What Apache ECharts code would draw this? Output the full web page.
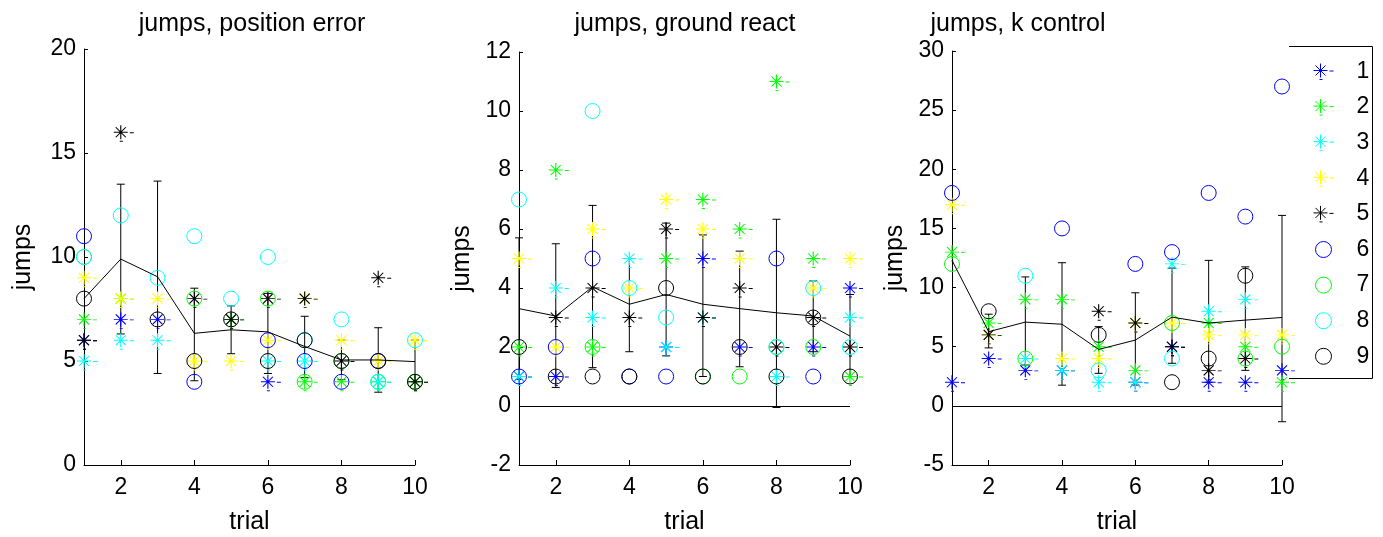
<!DOCTYPE html>
<html>
<head>
<meta charset="utf-8">
<script src="https://cdn.jsdelivr.net/npm/echarts@6/dist/echarts.min.js"></script>
<style>
  html, body { margin: 0; padding: 0; background: #fff; }
  #chart { width: 1383px; height: 537px; }
</style>
</head>
<body>
<div id="chart"></div>
<script>
// trials on the x axis
const trials = [1, 2, 3, 4, 5, 6, 7, 8, 9, 10]
const xTickValues = [2, 4, 6, 8, 10]
const subjects = ['1', '2', '3', '4', '5', '6', '7', '8', '9']
const subjectColors = ['#0000ff', '#00ff00', '#00ffff', '#ffff00', '#000000',
                       '#0000ff', '#00ff00', '#00ffff', '#000000']

const panelTitles = ['jumps, position error', 'jumps, ground react', 'jumps, k control']
const yMins = [0, -2, -5]
const yMaxs = [20, 12, 30]
const yIntervals = [5, 2, 5]

// jumps per subject (rows = subject 1..9, columns = trial 1..10), null = no point
const posError = [
  [6, 7, 7, null, null, 4, null, null, null, null],
  [7, 8, null, null, 7, null, 4, 4, 4, 4],
  [5, 6, 6, null, null, 5, 5, null, 4, null],
  [9, 8, 8, 5, 5, 6, 8, 6, 5, 6],
  [6, 16, null, 8, 7, 8, 8, 5, 9, 4],
  [11, null, null, 4, null, 6, 5, 4, 5, null],
  [10, null, null, 8, null, 8, 4, 5, 4, 4],
  [10, 12, 9, 11, 8, 10, 6, 7, 4, 6],
  [8, null, 7, 5, 7, 5, 6, 5, 5, 4]
]
const groundReact = [
  [1, 1, null, null, 2, 5, 2, null, 2, 4],
  [2, 8, 2, null, 5, 7, 6, 11, 5, 1],
  [1, 4, 3, 5, 2, 3, null, 1, null, 3],
  [5, 2, 6, 4, 7, 6, 5, null, 4, 5],
  [null, 3, 4, 3, 6, 3, 4, 2, 3, 2],
  [1, 2, 5, 1, 1, null, null, 5, 1, null],
  [null, null, 2, null, null, 1, 1, 2, 2, null],
  [7, null, 10, 4, 3, null, null, 2, 4, 2],
  [2, 1, 1, 1, 4, 1, 2, 1, 3, 1]
]
const kControl = [
  [2, 4, 3, 3, null, 2, 5, 2, 2, 3],
  [13, 7, 9, 9, 5, 3, null, 7, 5, 2],
  [null, null, 4, 3, 2, 2, 12, 8, 9, null],
  [17, 6, null, 4, 4, 7, 7, 6, 6, 6],
  [null, 6, null, null, 8, 7, 5, 3, 4, null],
  [18, null, null, 15, null, 12, 13, 18, 16, 27],
  [12, null, 4, null, null, null, 7, null, 4, 5],
  [null, null, 11, null, 3, null, 4, null, null, null],
  [null, 8, null, null, 6, null, 2, 4, 11, null]
]

// mean over subjects and error bar ends
const posErrorMean = [8.0, 9.9, 9.05, 6.33, 6.5, 6.4, 5.7, 5.05, 5.05, 4.97]
const posErrorLow = [null, 6.3, 4.4, 4.05, 5.35, 4.4, 4.2, 4.1, 3.5, 4.0]
const posErrorHigh = [null, 13.5, 13.65, 8.5, 7.65, 8.25, 7.15, 6.0, 6.6, 6.0]
const groundMean = [3.3, 3.05, 4.04, 3.45, 3.78, 3.45, 3.3, 3.16, 3.05, 2.37]
const groundLow = [0.9, 0.63, 1.3, 1.84, 1.7, 1.0, 1.33, -0.05, 1.84, 1.0]
const groundHigh = [5.7, 5.5, 6.8, 5.0, 6.2, 5.8, 5.25, 6.33, 4.24, 3.78]
const kMean = [12.3, 6.27, 7.08, 6.9, 4.77, 5.56, 7.5, 7.0, 7.25, 7.47]
const kLow = [null, 4.9, 3.45, 1.75, 2.75, 1.76, 3.6, 2.0, 3.0, -1.34]
const kHigh = [null, 7.75, 10.9, 12.1, 6.7, 9.56, 11.65, 12.3, 11.75, 16.1]

const panelData = [posError, groundReact, kControl]
const panelMeans = [posErrorMean, groundMean, kMean]
const panelLows = [posErrorLow, groundLow, kLow]
const panelHighs = [posErrorHigh, groundHigh, kHigh]

// asterisk with the little dashes, centred on the star
const asteriskPath = 'path://M0,7L14,7M7,0L7,14M2,2L12,12M12,2L2,12M16,7.5L20,7.5M6,16L9,16'
const font = 'Liberation Sans, Arial, sans-serif'

const grids = [
  { left: 84, top: 49, width: 331, height: 416, outerBoundsMode: 'none' },
  { left: 519, top: 52, width: 331, height: 413, outerBoundsMode: 'none' },
  { left: 952, top: 51, width: 330, height: 414, outerBoundsMode: 'none' },
]
const titleCenters = [247, 680, 1013]
const yNameGaps = [48, 44, 44]

const chartDom = document.getElementById('chart')
const chart = echarts.init(chartDom)

const xAxes = grids.map((g, i) => ({
  gridIndex: i,
  type: 'value',
  min: 1,
  max: 10,
  name: 'trial',
  nameLocation: 'middle',
  nameGap: 45,
  nameTextStyle: { color: '#000', fontSize: 25, fontFamily: font },
  axisLine: { onZero: false, lineStyle: { color: '#000', width: 1 } },
  axisTick: { inside: true, length: 5, customValues: xTickValues, lineStyle: { color: '#000' } },
  axisLabel: { customValues: xTickValues, color: '#000', fontSize: 23, fontFamily: font, margin: 11 },
  splitLine: { show: false },
}))

const yAxes = grids.map((g, i) => ({
  gridIndex: i,
  type: 'value',
  min: yMins[i],
  max: yMaxs[i],
  interval: yIntervals[i],
  name: 'jumps',
  nameLocation: 'middle',
  nameGap: yNameGaps[i],
  nameTextStyle: { color: '#000', fontSize: 25, fontFamily: font },
  axisLine: { show: true, onZero: false, lineStyle: { color: '#000', width: 1 } },
  axisTick: { show: true, inside: true, length: 4, lineStyle: { color: '#000' } },
  axisLabel: { color: '#000', fontSize: 23, fontFamily: font, margin: 8 },
  splitLine: { show: false },
}))

const series = []
panelData.forEach((rows, p) => {
  rows.forEach((row, s) => {
    const isStar = s < 5
    const pts = []
    row.forEach((v, i) => { if (v != null) pts.push([trials[i], v]) })
    series.push({
      name: subjects[s],
      type: 'scatter',
      xAxisIndex: p,
      yAxisIndex: p,
      data: pts,
      symbol: isStar ? asteriskPath : 'circle',
      symbolSize: isStar ? [20, 16] : 15,
      symbolOffset: isStar ? [3, 1] : [0, 0],
      itemStyle: {
        color: 'none',
        borderColor: subjectColors[s],
        borderWidth: 1,
        opacity: 1,
      },
      emphasis: { disabled: true },
      silent: true,
    })
  })

  // mean line (with zero line for the panels that go below 0)
  series.push({
    name: 'mean' + p,
    type: 'line',
    xAxisIndex: p,
    yAxisIndex: p,
    data: trials.map((t, i) => [t, panelMeans[p][i]]),
    symbol: 'none',
    lineStyle: { color: '#000', width: 1 },
    silent: true,
    markLine: yMins[p] < 0 ? {
      silent: true,
      symbol: 'none',
      label: { show: false },
      lineStyle: { color: '#000', width: 1, type: 'solid' },
      data: [{ yAxis: 0 }],
    } : undefined,
  })

  // error bars
  const errData = []
  trials.forEach((t, i) => {
    if (panelLows[p][i] != null) errData.push([t, panelLows[p][i], panelHighs[p][i]])
  })
  series.push({
    name: 'err' + p,
    type: 'custom',
    xAxisIndex: p,
    yAxisIndex: p,
    silent: true,
    data: errData,
    renderItem: (params, api) => {
      const lo = api.coord([api.value(0), api.value(1)])
      const hi = api.coord([api.value(0), api.value(2)])
      const cap = 4
      const style = { stroke: '#000', lineWidth: 1 }
      return {
        type: 'group',
        children: [
          { type: 'line', shape: { x1: lo[0], y1: lo[1], x2: hi[0], y2: hi[1] }, style },
          { type: 'line', shape: { x1: hi[0] - cap, y1: hi[1], x2: hi[0] + cap, y2: hi[1] }, style },
          { type: 'line', shape: { x1: lo[0] - cap, y1: lo[1], x2: lo[0] + cap, y2: lo[1] }, style },
        ],
      }
    },
    encode: { x: 0, y: [1, 2] },
  })
})

const option = {
  animation: false,
  backgroundColor: '#fff',
  title: panelTitles.map((t, i) => ({
    text: t,
    left: titleCenters[i],
    top: 7,
    textAlign: 'center',
    textStyle: { color: '#000', fontSize: 25, fontWeight: 'normal', fontFamily: font },
  })),
  legend: {
    data: subjects,
    orient: 'vertical',
    left: 1306,
    top: 55,
    itemWidth: 20,
    itemHeight: 16,
    itemGap: 12.6,
    selectedMode: false,
    itemStyle: { borderWidth: 1 },
    textStyle: { color: '#000', fontSize: 23, fontFamily: font, padding: [0, 0, 0, 18] },
  },
  graphic: [
    {
      type: 'polyline',
      silent: true,
      shape: { points: [[1289, 46.5], [1372.5, 46.5], [1372.5, 378.5], [1289, 378.5]] },
      style: { stroke: '#000', lineWidth: 1, fill: 'none' },
    },
  ],
  grid: grids,
  xAxis: xAxes,
  yAxis: yAxes,
  series: series,
}

chart.setOption(option)
</script>
</body>
</html>
